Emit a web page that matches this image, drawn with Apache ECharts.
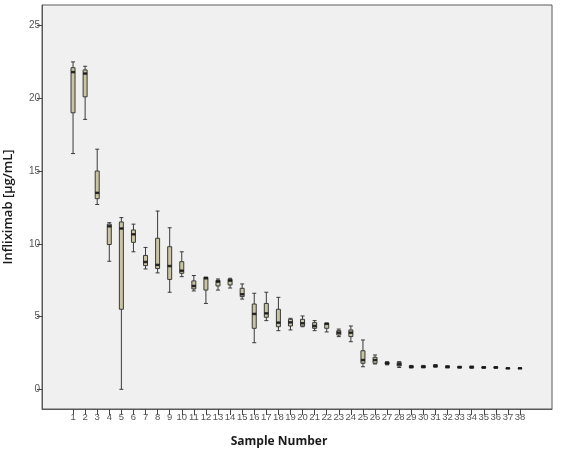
<!DOCTYPE html>
<html>
<head>
<meta charset="utf-8">
<script src="https://cdn.jsdelivr.net/npm/echarts@6/dist/echarts.min.js"></script>
<style>
    html, body { margin: 0; padding: 0; background: #fff; }
    #chart { width: 561px; height: 452px; }
</style>
</head>
<body>
<div id="chart"></div>
<script>
// sample numbers on the x axis
var samples = [1, 2, 3, 4, 5, 6, 7, 8, 9, 10, 11, 12, 13, 14, 15, 16, 17, 18, 19,
    20, 21, 22, 23, 24, 25, 26, 27, 28, 29, 30, 31, 32, 33, 34, 35, 36, 37, 38];

// infliximab concentration, µg/mL
var lows = [16.2, 18.55, 12.7, 8.8, 0.0, 9.45, 8.27, 8.0, 6.67, 7.74, 6.76, 5.9, 6.82, 6.96, 6.2, 3.2, 4.72, 4.03, 4.08,
    4.3, 4.03, 3.94, 3.62, 3.27, 1.55, 1.74, 1.68, 1.5, 1.46, 1.47, 1.52, 1.47, 1.46, 1.45, 1.45, 1.45, 1.42, 1.42];
var q1s = [19.0, 20.1, 13.1, 9.95, 5.5, 10.1, 8.5, 8.3, 7.55, 7.97, 6.9, 6.82, 7.1, 7.17, 6.37, 4.19, 4.95, 4.3, 4.35,
    4.35, 4.19, 4.19, 3.73, 3.62, 1.79, 1.79, 1.73, 1.6, 1.5, 1.5, 1.56, 1.5, 1.49, 1.48, 1.48, 1.47, 1.43, 1.43];
var medians = [21.8, 21.7, 13.5, 11.2, 11.05, 10.65, 8.75, 8.55, 8.47, 8.15, 7.1, 7.63, 7.4, 7.47, 6.53, 5.18, 5.22, 4.58, 4.6,
    4.54, 4.35, 4.5, 3.89, 3.89, 2.01, 2.01, 1.79, 1.72, 1.55, 1.55, 1.6, 1.54, 1.52, 1.52, 1.5, 1.5, 1.44, 1.44];
var q3s = [22.1, 21.95, 15.0, 11.35, 11.5, 10.95, 9.2, 10.38, 9.8, 8.77, 7.45, 7.7, 7.49, 7.56, 6.94, 5.86, 5.9, 5.5, 4.81,
    4.81, 4.58, 4.54, 4.03, 4.08, 2.65, 2.2, 1.85, 1.85, 1.6, 1.6, 1.65, 1.58, 1.55, 1.56, 1.53, 1.53, 1.46, 1.46];
var highs = [22.5, 22.2, 16.5, 11.45, 11.8, 11.35, 9.75, 12.25, 11.1, 9.45, 7.82, 7.7, 7.58, 7.63, 7.24, 6.6, 6.67, 6.32, 4.88,
    5.04, 4.72, 4.54, 4.14, 4.35, 3.39, 2.36, 1.9, 1.9, 1.64, 1.64, 1.7, 1.62, 1.58, 1.6, 1.56, 1.56, 1.47, 1.47];

var yTicks = [0, 5, 10, 15, 20, 25];

var boxData = samples.map(function (s, i) {
    return [s, lows[i], q1s[i], medians[i], q3s[i], highs[i]];
});
var medianData = samples.map(function (s, i) { return [s, medians[i]]; });

var myChart = echarts.init(document.getElementById('chart'), null, { renderer: 'canvas' });

var option = {
    backgroundColor: '#ffffff',
    animation: false,
    grid: {
        left: 42, right: 9, top: 5, bottom: 43,
        containLabel: false,
        outerBoundsMode: 'none',
        show: true,
        backgroundColor: '#f0f0f0',
        borderColor: '#5a5a5a',
        borderWidth: 1
    },
    xAxis: {
        type: 'value',
        min: -1.57,
        max: 40.65,
        name: 'Sample Number',
        nameLocation: 'middle',
        nameGap: 27,
        nameTextStyle: { fontFamily: 'Open Sans', fontWeight: 700, fontSize: 12, color: '#1a1a1a', padding: [0, 36, 0, 0] },
        axisLine: { show: true, onZero: false, lineStyle: { color: '#5a5a5a', width: 1 } },
        axisTick: { show: true, customValues: samples, length: 6, lineStyle: { color: '#444' } },
        axisLabel: {
            customValues: samples,
            margin: 3,
            hideOverlap: false,
            fontFamily: 'Liberation Sans',
            fontSize: 9.5,
            color: '#555'
        },
        splitLine: { show: false }
    },
    yAxis: {
        type: 'value',
        min: -1.354,
        max: 26.41,
        name: 'Infliximab [µg/mL]',
        nameLocation: 'middle',
        nameGap: 27,
        nameRotate: 90,
        nameTextStyle: { fontFamily: 'Open Sans', fontWeight: 600, fontSize: 13, color: '#1a1a1a' },
        axisLine: { show: true, onZero: false, lineStyle: { color: '#5a5a5a', width: 1 } },
        axisTick: { show: true, customValues: yTicks, length: 5, lineStyle: { color: '#444' } },
        axisLabel: {
            customValues: yTicks,
            margin: 2,
            fontFamily: 'Liberation Sans',
            fontSize: 10,
            color: '#555'
        },
        splitLine: { show: false }
    },
    series: [
        {
            type: 'boxplot',
            data: boxData,
            boxWidth: [4, 4],
            itemStyle: {
                color: '#c9c5a1',
                borderColor: '#3a3a3a',
                borderWidth: 1
            }
        },
        {
            type: 'scatter',
            data: medianData,
            symbol: 'rect',
            symbolSize: [4, 2.5],
            itemStyle: { color: '#111' },
            silent: true
        }
    ]
};

myChart.setOption(option);
</script>
</body>
</html>
